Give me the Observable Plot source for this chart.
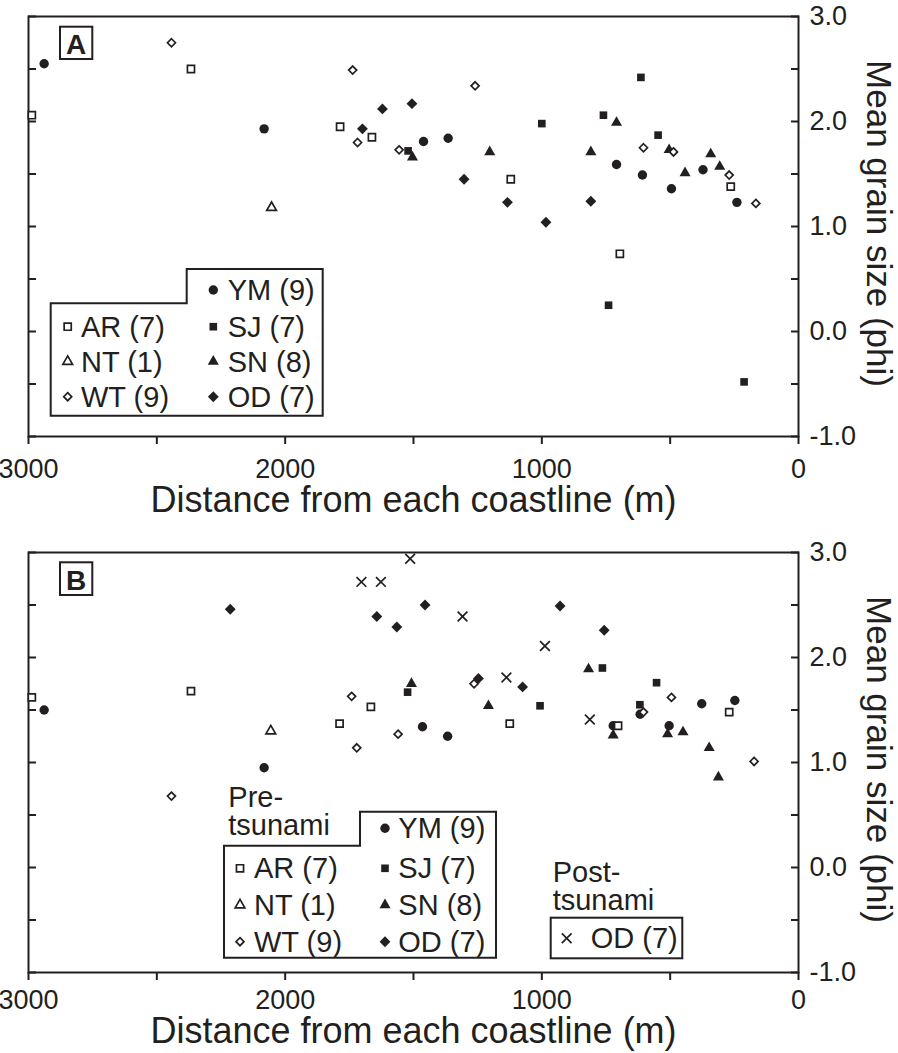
<!DOCTYPE html>
<html><head><meta charset="utf-8">
<script src="https://cdn.jsdelivr.net/npm/d3@7"></script>
<script src="https://cdn.jsdelivr.net/npm/@observablehq/plot@0.6"></script>
<style>
body{margin:0;background:#fff;}
#chart{width:898px;}
#chart svg{display:block;}
</style></head><body><div id="chart"></div>
<script>
const INK = "#231f20";
const FONT = "'Liberation Sans', Arial, Helvetica, sans-serif";

// ---------- Panel A data (distance m, mean grain size phi) ----------
const ymA_dist = [2939, 2082, 1461, 1365, 709, 608, 495, 372, 240];
const ymA_phi  = [2.55, 1.93, 1.81, 1.84, 1.59, 1.49, 1.36, 1.54, 1.23];
const arA_dist = [2987, 2367, 1786, 1662, 1121, 696, 264];
const arA_phi  = [2.06, 2.50, 1.95, 1.85, 1.45, 0.74, 1.38];
const ntA_dist = [2053];
const ntA_phi  = [1.18];
const wtA_dist = [2443, 1737, 1718, 1556, 1260, 604, 487, 270, 166];
const wtA_phi  = [2.75, 2.49, 1.80, 1.73, 2.34, 1.75, 1.71, 1.49, 1.22];
const sjA_dist = [1521, 1000, 760, 614, 547, 740, 212];
const sjA_phi  = [1.72, 1.98, 2.06, 2.42, 1.87, 0.25, -0.48];
const snA_dist = [1504, 1203, 809, 709, 504, 442, 342, 307];
const snA_phi  = [1.66, 1.71, 1.71, 1.99, 1.73, 1.51, 1.69, 1.57];
const odA_dist = [1699, 1621, 1506, 1303, 1134, 984, 809];
const odA_phi  = [1.93, 2.12, 2.17, 1.45, 1.23, 1.04, 1.24];

// ---------- Panel B data ----------
const ymB_dist = [2939, 2082, 1465, 1367, 722, 617, 504, 377, 248];
const ymB_phi  = [1.50, 0.95, 1.34, 1.25, 1.35, 1.46, 1.35, 1.56, 1.59];
const arB_dist = [2987, 2367, 1788, 1666, 1125, 703, 270];
const arB_phi  = [1.62, 1.68, 1.37, 1.53, 1.37, 1.35, 1.48];
const ntB_dist = [2056];
const ntB_phi  = [1.30];
const wtB_dist = [2443, 1741, 1721, 1560, 1264, 604, 495, 173];
const wtB_phi  = [0.68, 1.63, 1.14, 1.27, 1.75, 1.48, 1.62, 1.01];
const sjB_dist = [1523, 1007, 764, 618, 553];
const sjB_phi  = [1.67, 1.54, 1.90, 1.55, 1.76];
const snB_dist = [1508, 1208, 818, 722, 510, 450, 348, 312];
const snB_phi  = [1.75, 1.54, 1.89, 1.26, 1.27, 1.29, 1.14, 0.86];
const odB_dist = [2214, 1643, 1565, 1455, 1247, 1075, 929, 757];
const odB_phi  = [2.46, 2.39, 2.29, 2.50, 1.80, 1.72, 2.49, 2.26];
const odPostB_dist = [1513, 1703, 1627, 1309, 1138, 988, 813];
const odPostB_phi  = [2.94, 2.72, 2.72, 2.39, 1.81, 2.11, 1.41];

// ---------- tick values / labels ----------
const xTicks = [0, 500, 1000, 1500, 2000, 2500, 3000];
const yTicks = [-1, -0.5, 0, 0.5, 1, 1.5, 2, 2.5, 3];
const xTitle = "Distance from each coastline (m)";
const yTitle = "Mean grain size (phi)";
const legendLabels = {YM: "YM (9)", AR: "AR (7)", SJ: "SJ (7)", NT: "NT (1)", SN: "SN (8)", WT: "WT (9)", OD: "OD (7)"};

// ---------- symbol styles ----------
const styles = {
  YM: {symbol: d3.symbolCircle,   r: 4.7, fill: INK,     stroke: "none", sw: 0},
  SJ: {symbol: d3.symbolSquare,   r: 4.3, fill: INK,     stroke: "none", sw: 0},
  SN: {symbol: d3.symbolTriangle, r: 4.1, fill: INK,     stroke: "none", sw: 0},
  OD: {symbol: d3.symbolDiamond2, r: 4.9, fill: INK,     stroke: "none", sw: 0},
  ODpost: {symbol: d3.symbolTimes, r: 4.5, fill: "none", stroke: INK, sw: 1.7},
  AR: {symbol: d3.symbolSquare,   r: 4.0, fill: "white", stroke: INK, sw: 1.7},
  NT: {symbol: d3.symbolTriangle, r: 3.6, fill: "white", stroke: INK, sw: 1.7},
  WT: {symbol: d3.symbolDiamond2, r: 3.6, fill: "white", stroke: INK, sw: 1.7}
};

function rows(dist, phi) { return dist.map((d, i) => ({d, v: phi[i]})); }

function panel({series, height, marginTop, marginBottom, xPad, xTitleDy}) {
  const dotMarks = series.map(([key, dist, phi]) => {
    const s = styles[key];
    return Plot.dot(rows(dist, phi), {x: "d", y: "v", symbol: s.symbol, r: s.r,
      fill: s.fill, stroke: s.stroke, strokeWidth: s.sw});
  });
  return Plot.plot({
    width: 898, height, marginTop, marginBottom, marginLeft: 28, marginRight: 100,
    style: {fontFamily: FONT, color: INK, background: "white", overflow: "visible"},
    x: {domain: [3000, 0]},
    y: {domain: [-1, 3]},
    marks: [
      Plot.frame({stroke: INK, strokeWidth: 2}),
      Plot.axisX({ticks: xTicks, tickFormat: d => d % 1000 === 0 ? String(d) : "",
        tickSize: 8, tickPadding: xPad, fontSize: 27, strokeWidth: 2, label: null}),
      Plot.axisY({anchor: "left", ticks: yTicks, tickFormat: () => "", tickSize: -8,
        strokeWidth: 2, label: null}),
      Plot.axisY({anchor: "right", ticks: yTicks,
        tickFormat: d => Number.isInteger(d) ? d.toFixed(1) : "",
        tickSize: -8, tickPadding: 19, fontSize: 27, strokeWidth: 2, label: null}),
      ...dotMarks,
      Plot.text([xTitle], {text: d => d, frameAnchor: "bottom", textAnchor: "middle",
        lineAnchor: "middle", dy: xTitleDy, fontSize: 36, fill: INK}),
      Plot.text([yTitle], {text: d => d, frameAnchor: "right", textAnchor: "middle",
        lineAnchor: "middle", dx: 80, dy: -3, rotate: 90, fontSize: 35, fill: INK})
    ]
  });
}

function sym(g, key, x, y) {
  const s = styles[key];
  g.append("path")
    .attr("d", d3.symbol(s.symbol, Math.PI * s.r * s.r)())
    .attr("transform", `translate(${x},${y})`)
    .attr("fill", s.fill).attr("stroke", s.stroke).attr("stroke-width", s.sw);
}

function label(g, txt, x, y, opts = {}) {
  g.append("text").attr("x", x).attr("y", y).text(txt)
    .attr("font-size", opts.size || 29).attr("font-weight", opts.weight || null)
    .attr("text-anchor", opts.anchor || "start");
}

function letterBox(g, letter, x0, y0, x1, y1) {
  g.append("rect").attr("x", x0).attr("y", y0).attr("width", x1 - x0).attr("height", y1 - y0)
    .attr("fill", "white").attr("stroke", INK).attr("stroke-width", 2);
  label(g, letter, (x0 + x1) / 2, y1 - 5, {size: 28, weight: "bold", anchor: "middle"});
}

function mainLegend(g, L) {
  g.append("path").attr("d",
    `M${L.x0},${L.yStep}H${L.xStep}V${L.yTop}H${L.x1}V${L.yBot}H${L.x0}Z`)
    .attr("fill", "white").attr("stroke", INK).attr("stroke-width", 2);
  const [r0, r1, r2, r3] = L.rows;
  const cells = [["YM", 1, r0], ["AR", 0, r1], ["SJ", 1, r1], ["NT", 0, r2], ["SN", 1, r2], ["WT", 0, r3], ["OD", 1, r3]];
  for (const [k, col, y] of cells) {
    sym(g, k, L.symX[col], y);
    label(g, legendLabels[k], L.txtX[col], y + 10);
  }
}

const chart = document.getElementById("chart");

// Panel A
const svgA = panel({
  series: [["YM", ymA_dist, ymA_phi], ["SJ", sjA_dist, sjA_phi], ["SN", snA_dist, snA_phi],
           ["OD", odA_dist, odA_phi], ["AR", arA_dist, arA_phi], ["NT", ntA_dist, ntA_phi],
           ["WT", wtA_dist, wtA_phi]],
  height: 530, marginTop: 16, marginBottom: 94, xPad: 14, xTitleDy: 64
});
{
  const g = d3.select(svgA).append("g").attr("font-family", FONT).attr("fill", INK);
  letterBox(g, "A", 60, 26.7, 92.3, 59);
  mainLegend(g, {x0: 50.7, yStep: 303.3, xStep: 186.7, yTop: 269, x1: 322.7, yBot: 415.7,
    rows: [290, 326.7, 361.5, 396.7], symX: [67.7, 213.3], txtX: [81, 227.7]});
}
chart.appendChild(svgA);

// Panel B
const svgB = panel({
  series: [["YM", ymB_dist, ymB_phi], ["SJ", sjB_dist, sjB_phi], ["SN", snB_dist, snB_phi],
           ["OD", odB_dist, odB_phi], ["ODpost", odPostB_dist, odPostB_phi],
           ["AR", arB_dist, arB_phi], ["NT", ntB_dist, ntB_phi], ["WT", wtB_dist, wtB_phi]],
  height: 523, marginTop: 22, marginBottom: 81, xPad: 9, xTitleDy: 58.5
});
{
  const g = d3.select(svgB).append("g").attr("font-family", FONT).attr("fill", INK);
  letterBox(g, "B", 60, 32.3, 92.3, 65);
  label(g, "Pre-", 228.3, 276.7);
  label(g, "tsunami", 228.3, 305);
  mainLegend(g, {x0: 224, yStep: 315.7, xStep: 360, yTop: 281.7, x1: 496, yBot: 427.7,
    rows: [298.3, 338.3, 375, 411.7], symX: [240, 385], txtX: [254, 398.3]});
  label(g, "Post-", 552.7, 351.7);
  label(g, "tsunami", 552.7, 380);
  g.append("rect").attr("x", 550.7).attr("y", 387.7).attr("width", 131.6).attr("height", 40.6)
    .attr("fill", "white").attr("stroke", INK).attr("stroke-width", 2);
  sym(g, "ODpost", 566.7, 408.3);
  label(g, "OD (7)", 590.7, 418.3);
}
chart.appendChild(svgB);
</script>
</body></html>
